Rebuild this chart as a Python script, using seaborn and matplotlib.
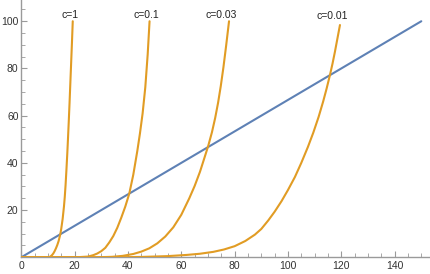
import matplotlib
matplotlib.use("Agg")
import matplotlib.pyplot as plt
import seaborn as sns
import pandas as pd
from matplotlib.ticker import MultipleLocator

# ── data ─────────────────────────────────────────────────────────────────────
line_x = [0, 150]
line_y = [0, 100]

c1_x = [0, 9.5, 10.5, 11.0, 11.5, 12.0, 12.5, 13.0, 13.5, 14.0, 14.6, 15.0, 15.5,
        16.0, 16.3, 16.6, 16.9, 17.25, 17.5, 17.8, 18.1, 18.4, 18.7, 19.0, 19.3]
c1_y = [0, 0, 0.1, 0.4, 0.9, 1.6, 2.6, 3.8, 5.2, 6.9, 9.6, 12.2, 16.2,
        21.5, 25.5, 30.5, 36.5, 44.0, 50.0, 57.5, 65.5, 74.0, 82.5, 91.0, 100]

c01_x = [0, 18, 22, 25, 27, 28.5, 30, 31.5, 33, 34.5, 36, 37.5, 39, 40.5,
         42, 43.5, 44.5, 45.5, 46.5, 47.4, 48.1]
c01_y = [0, 0, 0.1, 0.3, 0.9, 1.6, 2.6, 4.0, 6.3, 9.0, 12.5, 16.8, 21.5, 27.0,
         35.0, 45.0, 52.5, 61.0, 72.0, 86.0, 100]

c003_x = [0, 28, 34, 38, 42, 45, 48, 51, 54, 57, 60, 63, 65, 67, 68.5, 70.1,
          71.5, 72.7, 73.8, 74.8, 75.8, 76.8, 77.9]
c003_y = [0, 0, 0.2, 0.6, 1.4, 2.4, 3.8, 5.9, 8.8, 12.7, 18.0, 25.0, 30.2, 36.2,
          41.5, 47.2, 53.0, 59.0, 65.5, 72.5, 80.5, 89.5, 100]

c001_x = [0, 35, 45, 55, 62, 67, 72, 76, 80, 84, 87.6, 90, 92.6, 95, 97.6, 100,
          102.6, 105, 107.5, 109.5, 111.5, 113.2, 114.5, 115.7, 116.7, 117.6,
          118.6, 119.5]
c001_y = [0, 0, 0.15, 0.5, 1.0, 1.5, 2.3, 3.3, 4.7, 6.9, 9.6, 12.0, 15.6, 19.3,
          23.8, 28.5, 34.0, 40.0, 46.8, 52.8, 59.5, 66.0, 71.5, 77.0, 82.0, 87.0,
          93.0, 98.4]

curve_names = ["c=1", "c=0.1", "c=0.03", "c=0.01"]
label_x = [18.3, 47.0, 75.1, 116.6]
label_y = [102.7, 102.7, 102.7, 102.2]

x_ticks = [0, 20, 40, 60, 80, 100, 120, 140]
y_ticks = [20, 40, 60, 80, 100]

BLUE   = "#5E81B5"
ORANGE = "#E19C24"
AXIS_C = "#9a9a9a"

sns.set_style("white")
plt.rcParams["font.family"] = ["Liberation Sans", "DejaVu Sans"]

fig = plt.figure(figsize=(4.31, 2.74), dpi=100)
ax = fig.add_axes([0.0494, 0.061, 0.9485, 0.939])

sns.lineplot(x=line_x, y=line_y, color=BLUE, linewidth=1.5, ax=ax, zorder=3)

curves = [(c1_x, c1_y), (c01_x, c01_y), (c003_x, c003_y), (c001_x, c001_y)]
for (cx, cy), name in zip(curves, curve_names):
    df = pd.DataFrame({"x": cx, "y": cy})
    sns.lineplot(data=df, x="x", y="y", color=ORANGE, linewidth=1.5,
                 estimator=None, sort=False, ax=ax, zorder=4)

for name, lx, ly in zip(curve_names, label_x, label_y):
    ax.text(lx, ly, name, fontsize=7.5, color="#222222",
            ha="center", va="center", zorder=5)

ax.set_xlim(0, 153.3)
ax.set_ylim(0, 109)
ax.set_xlabel("")
ax.set_ylabel("")

# ── Mathematica-like axes ───────────────────────────────────────────────────
for s in ["top", "right"]:
    ax.spines[s].set_visible(False)
for s in ["left", "bottom"]:
    ax.spines[s].set_color(AXIS_C)
    ax.spines[s].set_linewidth(1.0)

ax.set_xticks(x_ticks)
ax.set_yticks(y_ticks)
ax.xaxis.set_minor_locator(MultipleLocator(5))
ax.yaxis.set_minor_locator(MultipleLocator(5))
ax.tick_params(which="major", direction="in", length=4.5, width=0.8,
               color=AXIS_C, labelsize=7.5, labelcolor="#333333")
ax.tick_params(which="minor", direction="in", length=2.8, width=0.6,
               color=AXIS_C)
ax.tick_params(axis="x", which="major", pad=3)
ax.tick_params(axis="y", which="major", pad=2)
ax.tick_params(which="both", bottom=True, left=True)

fig.savefig("out.png", dpi=100)
